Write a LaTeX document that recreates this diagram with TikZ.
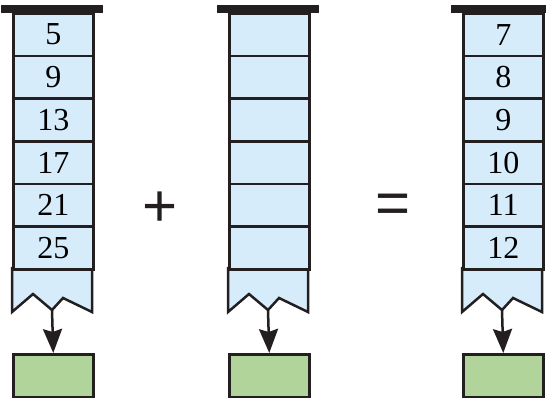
\documentclass[tikz,border=0pt]{standalone}
\usepackage{fontspec}
\setmainfont{Liberation Serif}
\newfontfamily\opfont{Liberation Sans}
\usetikzlibrary{arrows.meta}
\definecolor{cellblue}{HTML}{D6ECFA}
\definecolor{boxgreen}{HTML}{B0D49A}
\definecolor{ink}{HTML}{231F20}
\tikzset{
  conn/.style={draw=ink, line width=2.5pt, arrows={-Stealth[length=24pt, width=19pt, inset=3pt]}}
}
\begin{document}
\begin{tikzpicture}[x=1pt,y=-1pt,
  cell/.style={draw=ink, line width=2.5pt, fill=cellblue, minimum width=80pt,
    minimum height=42.67pt, inner sep=0pt, anchor=north west,
    font=\fontsize{32}{32}\selectfont},
  gbox/.style={draw=ink, line width=2.5pt, fill=boxgreen, minimum width=80pt,
    minimum height=43pt, inner sep=0pt, anchor=north west},
  tail/.style={draw=ink, line width=2.5pt, fill=cellblue, line join=miter},
  topbar/.style={draw=ink, line width=8pt},
  op/.style={inner sep=0pt, text=ink, font=\opfont\fontsize{60}{60}\selectfont}]
\useasboundingbox (0,0) rectangle (546,397);
\foreach \L/\nm/\vals in {12/a/{5,9,13,17,21,25},228/b/{,,,,,},462/c/{7,8,9,10,11,12}}{
  \draw[tail] (\L,268) -- (\L,312) -- ({\L+21},294) -- ({\L+40},310)
     -- ({\L+51},298) -- ({\L+80},312) -- ({\L+80},268) -- cycle;
  \coordinate (v\nm) at ({\L+40},310);
  \foreach \v [count=\i] in \vals {
    \node[cell] (\nm\i) at (\L,{12+42.67*(\i-1)}) {\v};
  }
  \draw[topbar] ({\L-11},9) -- ({\L+91},9);
  \node[gbox] (g\nm) at (\L,353) {};
  \draw[conn] (v\nm) -- (g\nm.north);
}
\node[op] (plus) at (160,209.5) {+};
\node[op] (eq) at (393.5,209) {=};
\end{tikzpicture}
\end{document}
